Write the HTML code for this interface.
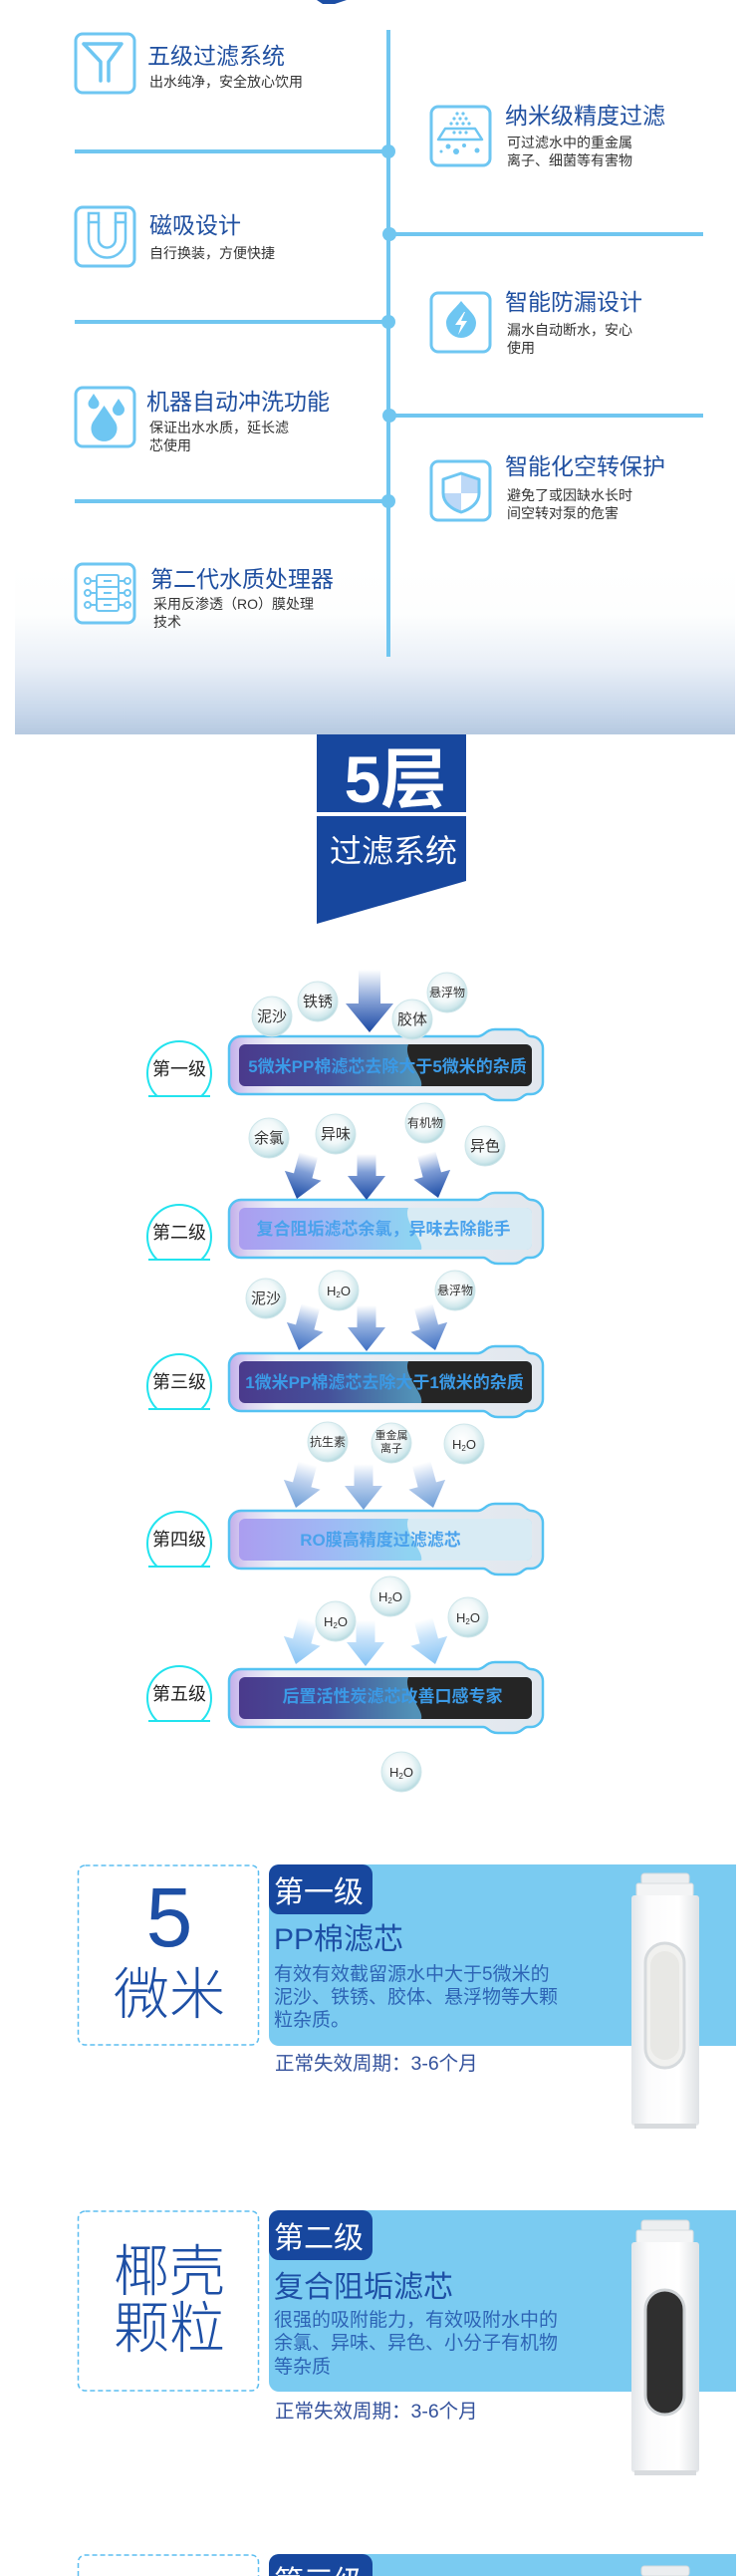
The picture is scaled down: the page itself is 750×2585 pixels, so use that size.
<!DOCTYPE html>
<html><head><meta charset="utf-8"><style>
html,body{margin:0;padding:0;background:#fff;width:750px;height:2585px;overflow:hidden;}
svg{display:block;font-family:"Liberation Sans","Noto Sans CJK SC",sans-serif;}
</style></head><body>
<svg width="750" height="2585" viewBox="0 0 750 2585" xmlns="http://www.w3.org/2000/svg">
<defs>
<linearGradient id="panelG" x1="0" y1="0" x2="0" y2="1"><stop offset="0" stop-color="#ffffff"/><stop offset="0.3" stop-color="#fdfefe"/><stop offset="0.6" stop-color="#e9eff7"/><stop offset="0.88" stop-color="#c6d6ea"/><stop offset="1" stop-color="#b6c9e0"/></linearGradient>
<radialGradient id="bub" cx="0.45" cy="0.4" r="0.6"><stop offset="0" stop-color="#ffffff"/><stop offset="0.55" stop-color="#f1f8f9"/><stop offset="0.85" stop-color="#d0e8ec"/><stop offset="1" stop-color="#b3d8de"/></radialGradient>
<linearGradient id="a1" x1="0" y1="0" x2="0" y2="1"><stop offset="0" stop-color="#ffffff"/><stop offset="0.45" stop-color="#8ea8da"/><stop offset="1" stop-color="#1a48a3"/></linearGradient>
<linearGradient id="a2" x1="0" y1="0" x2="0" y2="1"><stop offset="0" stop-color="#ffffff"/><stop offset="0.4" stop-color="#7f9dd6"/><stop offset="1" stop-color="#1b4ba5"/></linearGradient>
<linearGradient id="a3" x1="0" y1="0" x2="0" y2="1"><stop offset="0" stop-color="#ffffff"/><stop offset="0.4" stop-color="#9ab5e2"/><stop offset="1" stop-color="#3d6ec2"/></linearGradient>
<linearGradient id="a4" x1="0" y1="0" x2="0" y2="1"><stop offset="0" stop-color="#ffffff"/><stop offset="0.4" stop-color="#bcd0ee"/><stop offset="1" stop-color="#6e9ed7"/></linearGradient>
<linearGradient id="a5" x1="0" y1="0" x2="0" y2="1"><stop offset="0" stop-color="#ffffff"/><stop offset="0.4" stop-color="#c5e2fa"/><stop offset="1" stop-color="#86c3f4"/></linearGradient>
<linearGradient id="frm" x1="0" y1="0" x2="1" y2="0"><stop offset="0" stop-color="#c2aeea"/><stop offset="0.06" stop-color="#dcd5f2"/><stop offset="0.15" stop-color="#edf0f5"/><stop offset="1" stop-color="#e1e7ee"/></linearGradient>
<linearGradient id="dbar" x1="0" y1="0" x2="1" y2="0"><stop offset="0" stop-color="#4a3a8c"/><stop offset="0.3" stop-color="#45509a"/><stop offset="0.5" stop-color="#4b7dab"/><stop offset="0.6" stop-color="#5292b8"/></linearGradient>
<linearGradient id="lbar" x1="0" y1="0" x2="1" y2="0"><stop offset="0" stop-color="#ab9df0"/><stop offset="0.3" stop-color="#9fb8f4"/><stop offset="0.58" stop-color="#8fd3f2"/></linearGradient>
<linearGradient id="body" x1="0" y1="0" x2="1" y2="0"><stop offset="0" stop-color="#e3e6e9"/><stop offset="0.25" stop-color="#fbfbfc"/><stop offset="0.7" stop-color="#ffffff"/><stop offset="1" stop-color="#dfe2e5"/></linearGradient>
<clipPath id="shieldClip"><path d="M463,475 L481,481 V495 C481,505 472,511 463,514 C454,511 445,505 445,495 V481 Z"/></clipPath>
</defs>

<!-- top mark -->
<path d="M318,0 H348 L336,4 H324 Z" fill="#1d4fa5"/>

<!-- features gradient panel -->
<rect x="15" y="565" width="723" height="172" fill="url(#panelG)"/>

<!-- timeline -->
<g stroke="#70c6f0" stroke-width="4" fill="none">
<line x1="390" y1="30" x2="390" y2="659"/>
<line x1="75" y1="152" x2="390" y2="152"/>
<line x1="390" y1="235" x2="706" y2="235"/>
<line x1="75" y1="323" x2="390" y2="323"/>
<line x1="390" y1="417" x2="706" y2="417"/>
<line x1="75" y1="503" x2="390" y2="503"/>
</g>
<g fill="#70c6f0">
<circle cx="390" cy="152" r="7"/><circle cx="391" cy="235" r="7"/><circle cx="390" cy="323" r="7"/><circle cx="391" cy="417" r="7"/><circle cx="390" cy="503" r="7"/>
</g>

<!-- icon boxes -->
<g fill="#fff" stroke="#6ec6f2" stroke-width="3">
<rect x="76" y="34" width="59" height="59" rx="7"/>
<rect x="76" y="208" width="59" height="59" rx="7"/>
<rect x="76" y="389" width="59" height="59" rx="7"/>
<rect x="76" y="566" width="59" height="59" rx="7"/>
<rect x="433" y="107" width="59" height="59" rx="7"/>
<rect x="433" y="294" width="59" height="59" rx="7"/>
<rect x="433" y="463" width="59" height="59" rx="7"/>
</g>
<!-- funnel -->
<path d="M84,44 H122 L109,62 V81 M84,44 L101,62 V81" fill="none" stroke="#6ec6f2" stroke-width="3.5" stroke-linecap="round" stroke-linejoin="round"/>
<!-- magnet -->
<g fill="none" stroke="#6ec6f2" stroke-width="2.5">
<rect x="89" y="214" width="10" height="9"/><rect x="116" y="214" width="10" height="9"/>
<path d="M89,223 V240 A18.5,18.5 0 0 0 126,240 V223 M99,223 V240 A8.5,8.5 0 0 0 116,240 V223"/>
</g>
<!-- drops -->
<g fill="#6ec6f2">
<path d="M104.5,407 L115.8,423.5 A13,13 0 1 1 93.2,423.5 Z"/>
<path d="M94,395 L98.8,402.2 A5.5,5.5 0 1 1 89.2,402.2 Z"/>
<path d="M119,400 L124.2,408 A6,6 0 1 1 113.8,408 Z"/>
</g>
<!-- processor -->
<g fill="none" stroke="#6ec6f2" stroke-width="2">
<rect x="97" y="577" width="22" height="36" rx="2"/>
<line x1="97" y1="589" x2="119" y2="589"/><line x1="97" y1="601" x2="119" y2="601"/>
<line x1="104" y1="583" x2="112" y2="583"/><line x1="104" y1="595" x2="112" y2="595"/><line x1="104" y1="607" x2="112" y2="607"/>
<circle cx="88" cy="583" r="3"/><circle cx="88" cy="595" r="3"/><circle cx="88" cy="607" r="3"/>
<circle cx="128" cy="583" r="3"/><circle cx="128" cy="595" r="3"/><circle cx="128" cy="607" r="3"/>
<line x1="91" y1="583" x2="97" y2="583"/><line x1="91" y1="595" x2="97" y2="595"/><line x1="91" y1="607" x2="97" y2="607"/>
<line x1="119" y1="583" x2="125" y2="583"/><line x1="119" y1="595" x2="125" y2="595"/><line x1="119" y1="607" x2="125" y2="607"/>
</g>
<!-- nano -->
<path d="M447,129 H477 L484,140 H440 Z" fill="none" stroke="#6ec6f2" stroke-width="2.5" stroke-linejoin="round"/>
<g fill="#6ec6f2">
<circle cx="459" cy="114" r="1.6"/><circle cx="465" cy="114" r="1.6"/>
<circle cx="456" cy="119" r="1.6"/><circle cx="462" cy="119" r="1.6"/><circle cx="468" cy="119" r="1.6"/>
<circle cx="453" cy="124" r="1.6"/><circle cx="459" cy="124" r="1.6"/><circle cx="465" cy="124" r="1.6"/><circle cx="471" cy="124" r="1.6"/>
<circle cx="456" cy="133" r="1.6"/><circle cx="462" cy="133" r="1.6"/><circle cx="468" cy="133" r="1.6"/>
<circle cx="443" cy="152" r="1.5"/><circle cx="450" cy="147" r="2.5"/><circle cx="458" cy="152" r="3"/><circle cx="466" cy="146" r="2"/><circle cx="479" cy="151" r="2.5"/>
</g>
<!-- drop bolt -->
<path d="M463,302 C470,311 478,316 478,324 A15,15 0 0 1 448,324 C448,316 456,311 463,302 Z" fill="#6ec6f2"/>
<path d="M466,313 L457,326 H463 L460,336 L469,322 H463 L467,313 Z" fill="#fff"/>
<!-- shield -->
<path d="M463,475 L481,481 V495 C481,505 472,511 463,514 C454,511 445,505 445,495 V481 Z" fill="#fff"/>
<g clip-path="url(#shieldClip)" fill="#bcd8f7"><rect x="463" y="474" width="20" height="21"/><rect x="443" y="495" width="20" height="21"/></g>
<path d="M463,475 L481,481 V495 C481,505 472,511 463,514 C454,511 445,505 445,495 V481 Z" fill="none" stroke="#6ec6f2" stroke-width="3" stroke-linejoin="round"/>

<!-- feature titles -->
<g fill="#1f4fa0" font-size="23">
<text x="148" y="64">五级过滤系统</text>
<text x="507" y="124">纳米级精度过滤</text>
<text x="150" y="234">磁吸设计</text>
<text x="507" y="311">智能防漏设计</text>
<text x="147" y="411">机器自动冲洗功能</text>
<text x="507" y="476">智能化空转保护</text>
<text x="151" y="589">第二代水质处理器</text>
</g>
<g fill="#333" font-size="14">
<text x="150" y="87">出水纯净，安全放心饮用</text>
<text x="509" y="148">可过滤水中的重金属</text>
<text x="509" y="166">离子、细菌等有害物</text>
<text x="150" y="259">自行换装，方便快捷</text>
<text x="509" y="336">漏水自动断水，安心</text>
<text x="509" y="354">使用</text>
<text x="150" y="434">保证出水水质，延长滤</text>
<text x="150" y="452">芯使用</text>
<text x="509" y="502">避免了或因缺水长时</text>
<text x="509" y="520">间空转对泵的危害</text>
<text x="154" y="611">采用反渗透（RO）膜处理</text>
<text x="154" y="629">技术</text>
</g>

<!-- 5层 header -->
<rect x="318" y="737" width="150" height="78" fill="#17479e"/>
<path d="M318,819 H468 V884 L318,927 Z" fill="#17479e"/>
<text x="397" y="805" font-size="66" font-weight="bold" fill="#fff" text-anchor="middle">5层</text>
<text x="395" y="865" font-size="32" fill="#fff" text-anchor="middle">过滤系统</text>

<!-- stage bars -->
<g id="bars">
<path d="M242,1040 H480 C486,1040 488,1033 497,1033 H518 C527,1033 528,1040 533,1040 A12,12 0 0 1 545,1052 V1086 A12,12 0 0 1 533,1098 H530 C525,1098 524,1104 515,1104 H500 C491,1104 490,1098 485,1098 H242 A12,12 0 0 1 230,1086 V1052 A12,12 0 0 1 242,1040 Z" fill="url(#frm)" stroke="#55c2f2" stroke-width="2.5"/>
<rect x="240" y="1048" width="294" height="42" rx="6" fill="url(#dbar)"/>
<path d="M410,1048 H528 A6,6 0 0 1 534,1054 V1084 A6,6 0 0 1 528,1090 H423 C426,1080 404,1062 410,1048 Z" fill="#252525"/>
<text x="389" y="1076" font-size="17" font-weight="bold" fill="#3b9ae6" text-anchor="middle">5微米PP棉滤芯去除大于5微米的杂质</text>

<path d="M242,1204 H480 C486,1204 488,1197 497,1197 H518 C527,1197 528,1204 533,1204 A12,12 0 0 1 545,1216 V1250 A12,12 0 0 1 533,1262 H530 C525,1262 524,1268 515,1268 H500 C491,1268 490,1262 485,1262 H242 A12,12 0 0 1 230,1250 V1216 A12,12 0 0 1 242,1204 Z" fill="url(#frm)" stroke="#55c2f2" stroke-width="2.5"/>
<rect x="240" y="1212" width="294" height="42" rx="6" fill="url(#lbar)"/>
<path d="M410,1212 H528 A6,6 0 0 1 534,1218 V1248 A6,6 0 0 1 528,1254 H423 C426,1244 404,1226 410,1212 Z" fill="#d8ebf4"/>
<text x="385" y="1239" font-size="17" font-weight="bold" fill="#4aa2ec" text-anchor="middle">复合阻垢滤芯余氯，异味去除能手</text>

<path d="M242,1358 H480 C486,1358 488,1351 497,1351 H518 C527,1351 528,1358 533,1358 A12,12 0 0 1 545,1370 V1404 A12,12 0 0 1 533,1416 H530 C525,1416 524,1422 515,1422 H500 C491,1422 490,1416 485,1416 H242 A12,12 0 0 1 230,1404 V1370 A12,12 0 0 1 242,1358 Z" fill="url(#frm)" stroke="#55c2f2" stroke-width="2.5"/>
<rect x="240" y="1366" width="294" height="42" rx="6" fill="url(#dbar)"/>
<path d="M410,1366 H528 A6,6 0 0 1 534,1372 V1402 A6,6 0 0 1 528,1408 H423 C426,1398 404,1380 410,1366 Z" fill="#252525"/>
<text x="386" y="1393" font-size="17" font-weight="bold" fill="#3b9ae6" text-anchor="middle">1微米PP棉滤芯去除大于1微米的杂质</text>

<path d="M242,1516 H480 C486,1516 488,1509 497,1509 H518 C527,1509 528,1516 533,1516 A12,12 0 0 1 545,1528 V1562 A12,12 0 0 1 533,1574 H530 C525,1574 524,1580 515,1580 H500 C491,1580 490,1574 485,1574 H242 A12,12 0 0 1 230,1562 V1528 A12,12 0 0 1 242,1516 Z" fill="url(#frm)" stroke="#55c2f2" stroke-width="2.5"/>
<rect x="240" y="1524" width="294" height="42" rx="6" fill="url(#lbar)"/>
<path d="M410,1524 H528 A6,6 0 0 1 534,1530 V1560 A6,6 0 0 1 528,1566 H423 C426,1556 404,1538 410,1524 Z" fill="#d8ebf4"/>
<text x="382" y="1551" font-size="17" font-weight="bold" fill="#4aa2ec" text-anchor="middle">RO膜高精度过滤滤芯</text>

<path d="M242,1675 H480 C486,1675 488,1668 497,1668 H518 C527,1668 528,1675 533,1675 A12,12 0 0 1 545,1687 V1721 A12,12 0 0 1 533,1733 H530 C525,1733 524,1739 515,1739 H500 C491,1739 490,1733 485,1733 H242 A12,12 0 0 1 230,1721 V1687 A12,12 0 0 1 242,1675 Z" fill="url(#frm)" stroke="#55c2f2" stroke-width="2.5"/>
<rect x="240" y="1683" width="294" height="42" rx="6" fill="url(#dbar)"/>
<path d="M410,1683 H528 A6,6 0 0 1 534,1689 V1719 A6,6 0 0 1 528,1725 H423 C426,1715 404,1697 410,1683 Z" fill="#252525"/>
<text x="394" y="1708" font-size="17" font-weight="bold" fill="#3b9ae6" text-anchor="middle">后置活性炭滤芯改善口感专家</text>
</g>

<!-- stage labels -->
<g fill="#fff" stroke="#22e3ee" stroke-width="2">
<circle cx="180" cy="1077" r="32"/><circle cx="180" cy="1241" r="32"/><circle cx="180" cy="1391" r="32"/><circle cx="180" cy="1549" r="32"/><circle cx="180" cy="1704" r="32"/>
</g>
<g fill="#fff">
<rect x="144" y="1101" width="72" height="12"/><rect x="144" y="1265" width="72" height="12"/><rect x="144" y="1415" width="72" height="12"/><rect x="144" y="1573" width="72" height="12"/><rect x="144" y="1728" width="72" height="12"/>
</g>
<g stroke="#22e3ee" stroke-width="2">
<line x1="149" y1="1100" x2="211" y2="1100"/><line x1="149" y1="1264" x2="211" y2="1264"/><line x1="149" y1="1414" x2="211" y2="1414"/><line x1="149" y1="1572" x2="211" y2="1572"/><line x1="149" y1="1727" x2="211" y2="1727"/>
</g>
<g fill="#222" font-size="18" text-anchor="middle">
<text x="180" y="1079">第一级</text>
<text x="180" y="1243">第二级</text>
<text x="180" y="1393">第三级</text>
<text x="180" y="1551">第四级</text>
<text x="180" y="1706">第五级</text>
</g>

<!-- arrows -->
<path d="M360,973 H382 V1007 H395 L371,1036 L347,1007 H360 Z" fill="url(#a1)"/>
<g>
<path transform="translate(298,1203) rotate(15)" d="M-9.5,-46 H9.5 V-24 H19 L0,0 L-19,-24 H-9.5 Z" fill="url(#a2)"/>
<path transform="translate(368,1204)" d="M-9.5,-46 H9.5 V-24 H19 L0,0 L-19,-24 H-9.5 Z" fill="url(#a2)"/>
<path transform="translate(440,1202) rotate(-15)" d="M-9.5,-46 H9.5 V-24 H19 L0,0 L-19,-24 H-9.5 Z" fill="url(#a2)"/>
<path transform="translate(300,1355) rotate(15)" d="M-9.5,-46 H9.5 V-24 H19 L0,0 L-19,-24 H-9.5 Z" fill="url(#a3)"/>
<path transform="translate(368,1356)" d="M-9.5,-46 H9.5 V-24 H19 L0,0 L-19,-24 H-9.5 Z" fill="url(#a3)"/>
<path transform="translate(437,1355) rotate(-15)" d="M-9.5,-46 H9.5 V-24 H19 L0,0 L-19,-24 H-9.5 Z" fill="url(#a3)"/>
<path transform="translate(297,1513) rotate(15)" d="M-9.5,-46 H9.5 V-24 H19 L0,0 L-19,-24 H-9.5 Z" fill="url(#a4)"/>
<path transform="translate(365,1515)" d="M-9.5,-46 H9.5 V-24 H19 L0,0 L-19,-24 H-9.5 Z" fill="url(#a4)"/>
<path transform="translate(435,1513) rotate(-15)" d="M-9.5,-46 H9.5 V-24 H19 L0,0 L-19,-24 H-9.5 Z" fill="url(#a4)"/>
<path transform="translate(297,1670) rotate(15)" d="M-9.5,-46 H9.5 V-24 H19 L0,0 L-19,-24 H-9.5 Z" fill="url(#a5)"/>
<path transform="translate(367,1672)" d="M-9.5,-46 H9.5 V-24 H19 L0,0 L-19,-24 H-9.5 Z" fill="url(#a5)"/>
<path transform="translate(437,1670) rotate(-15)" d="M-9.5,-46 H9.5 V-24 H19 L0,0 L-19,-24 H-9.5 Z" fill="url(#a5)"/>
</g>

<!-- bubbles -->
<g fill="url(#bub)" stroke="#cfe6ea" stroke-width="1">
<circle cx="273" cy="1020" r="20"/><circle cx="319" cy="1005" r="20"/><circle cx="414" cy="1023" r="20"/><circle cx="449" cy="996" r="20"/>
<circle cx="270" cy="1142" r="20"/><circle cx="337" cy="1138" r="20"/><circle cx="427" cy="1127" r="20"/><circle cx="487" cy="1150" r="20"/>
<circle cx="267" cy="1303" r="20"/><circle cx="340" cy="1295" r="20"/><circle cx="457" cy="1295" r="20"/>
<circle cx="329" cy="1447" r="20"/><circle cx="393" cy="1448" r="20"/><circle cx="466" cy="1449" r="20"/>
<circle cx="392" cy="1602" r="20"/><circle cx="337" cy="1627" r="20"/><circle cx="470" cy="1623" r="20"/>
<circle cx="403" cy="1778" r="20"/>
</g>
<g fill="#333" text-anchor="middle">
<text x="273" y="1025" font-size="15">泥沙</text>
<text x="319" y="1010" font-size="15">铁锈</text>
<text x="414" y="1028" font-size="15">胶体</text>
<text x="449" y="1000" font-size="12">悬浮物</text>
<text x="270" y="1147" font-size="15">余氯</text>
<text x="337" y="1143" font-size="15">异味</text>
<text x="427" y="1131" font-size="12">有机物</text>
<text x="487" y="1155" font-size="15">异色</text>
<text x="267" y="1308" font-size="15">泥沙</text>
<text x="457" y="1299" font-size="12">悬浮物</text>
<text x="329" y="1451" font-size="12">抗生素</text>
<text x="393" y="1444" font-size="11">重金属</text>
<text x="393" y="1457" font-size="11">离子</text>
</g>
<g fill="#333" text-anchor="middle" font-size="13">
<text x="340" y="1300">H<tspan font-size="8" dy="2">2</tspan><tspan dy="-2">O</tspan></text>
<text x="466" y="1454">H<tspan font-size="8" dy="2">2</tspan><tspan dy="-2">O</tspan></text>
<text x="392" y="1607">H<tspan font-size="8" dy="2">2</tspan><tspan dy="-2">O</tspan></text>
<text x="337" y="1632">H<tspan font-size="8" dy="2">2</tspan><tspan dy="-2">O</tspan></text>
<text x="470" y="1628">H<tspan font-size="8" dy="2">2</tspan><tspan dy="-2">O</tspan></text>
<text x="403" y="1783">H<tspan font-size="8" dy="2">2</tspan><tspan dy="-2">O</tspan></text>
</g>

<!-- CARD 1 -->
<rect x="78.5" y="1872" width="181" height="180" rx="7" fill="none" stroke="#5bbdf0" stroke-width="1.5" stroke-dasharray="5,3"/>
<text x="170" y="1953" font-size="84" font-weight="300" fill="#1d4fa5" text-anchor="middle">5</text>
<text x="170" y="2021" font-size="56" font-weight="300" fill="#1d4fa5" text-anchor="middle">微米</text>
<path d="M280,1871 H739 V2053 H280 A10,10 0 0 1 270,2043 V1881 A10,10 0 0 1 280,1871 Z" fill="#7acbf1"/>
<rect x="270" y="1871" width="104" height="50" rx="10" fill="#17479e"/>
<text x="275" y="1909" font-size="30" fill="#fff">第一级</text>
<text x="275" y="1956" font-size="30" fill="#1d4fa5">PP棉滤芯</text>
<g font-size="19" fill="#2d64b5">
<text x="275" y="1987">有效有效截留源水中大于5微米的</text>
<text x="275" y="2010">泥沙、铁锈、胶体、悬浮物等大颗</text>
<text x="275" y="2033">粒杂质。</text>
</g>
<text x="276" y="2077" font-size="19.5" fill="#34529c">正常失效周期：3-6个月</text>
<g>
<rect x="644" y="1880" width="48" height="11" rx="3" fill="#eceef0" stroke="#d5d9dd"/>
<rect x="639" y="1890" width="57" height="13" rx="2" fill="#f3f4f5" stroke="#d9dde0"/>
<rect x="634" y="1902" width="68" height="231" rx="3" fill="url(#body)"/>
<rect x="637" y="2131" width="62" height="5" fill="#d8dbde"/>
<rect x="648" y="1950" width="39" height="125" rx="19.5" fill="#f1f1ef" stroke="#d6dadd" stroke-width="3"/>
<rect x="653" y="1958" width="29" height="109" rx="14.5" fill="#e8e8e5"/>
</g>

<!-- CARD 2 -->
<rect x="78.5" y="2219" width="181" height="180" rx="7" fill="none" stroke="#5bbdf0" stroke-width="1.5" stroke-dasharray="5,3"/>
<text x="170" y="2299" font-size="56" font-weight="300" fill="#1d4fa5" text-anchor="middle">椰壳</text>
<text x="170" y="2356" font-size="56" font-weight="300" fill="#1d4fa5" text-anchor="middle">颗粒</text>
<path d="M280,2218 H739 V2400 H280 A10,10 0 0 1 270,2390 V2228 A10,10 0 0 1 280,2218 Z" fill="#7acbf1"/>
<rect x="270" y="2218" width="104" height="50" rx="10" fill="#17479e"/>
<text x="275" y="2256" font-size="30" fill="#fff">第二级</text>
<text x="275" y="2305" font-size="30" fill="#1d4fa5">复合阻垢滤芯</text>
<g font-size="19" fill="#2d64b5">
<text x="275" y="2334">很强的吸附能力，有效吸附水中的</text>
<text x="275" y="2357">余氯、异味、异色、小分子有机物</text>
<text x="275" y="2381">等杂质</text>
</g>
<text x="276" y="2426" font-size="19.5" fill="#34529c">正常失效周期：3-6个月</text>
<g transform="translate(0,348)">
<rect x="644" y="1880" width="48" height="11" rx="3" fill="#eceef0" stroke="#d5d9dd"/>
<rect x="639" y="1890" width="57" height="13" rx="2" fill="#f3f4f5" stroke="#d9dde0"/>
<rect x="634" y="1902" width="68" height="231" rx="3" fill="url(#body)"/>
<rect x="637" y="2131" width="62" height="5" fill="#d8dbde"/>
<rect x="648" y="1950" width="39" height="125" rx="19.5" fill="#2f2f2f" stroke="#cfd3d6" stroke-width="3"/>
</g>

<!-- CARD 3 (partial, clipped at frame bottom) -->
<path d="M78.5,2585 V2571 A7,7 0 0 1 85.5,2564 H252.5 A7,7 0 0 1 259.5,2571 V2585" fill="none" stroke="#5bbdf0" stroke-width="1.5" stroke-dasharray="5,3"/>
<path d="M280,2563 H739 V2585 H270 V2573 A10,10 0 0 1 280,2563 Z" fill="#7acbf1"/>
<path d="M280,2563 H364 A10,10 0 0 1 374,2573 V2585 H270 V2573 A10,10 0 0 1 280,2563 Z" fill="#17479e"/>
<text x="275" y="2601" font-size="30" fill="#fff">第三级</text>
<rect x="644" y="2575" width="48" height="10" rx="3" fill="#eceef0" stroke="#d5d9dd"/>
</svg>
</body></html>
